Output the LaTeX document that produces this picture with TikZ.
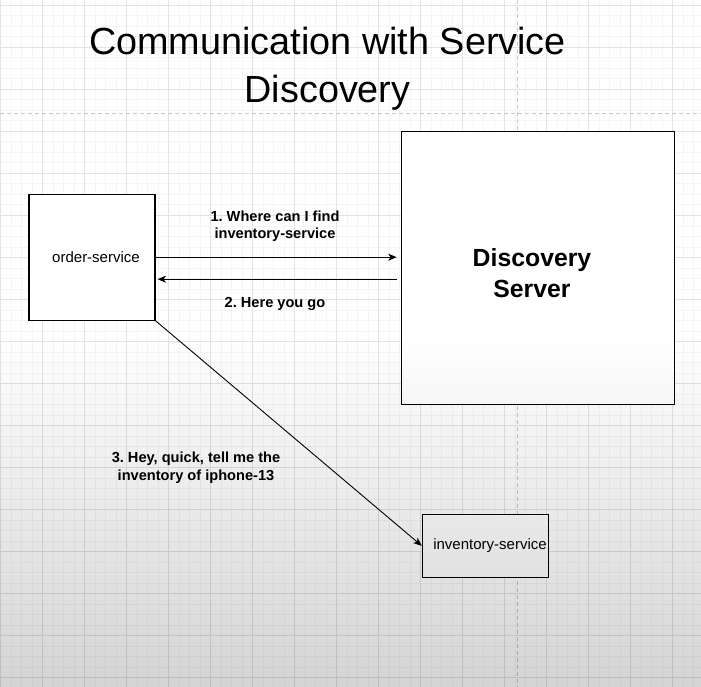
\documentclass[tikz,border=0pt]{standalone}
\usepackage{fontspec}
\setmainfont{Liberation Sans}
\usetikzlibrary{arrows.meta,fadings}
\tikzfading[name=fadedown, top color=transparent!100, bottom color=transparent!83]
\begin{document}
\frenchspacing
\begin{tikzpicture}[x=1pt,y=-1pt,
  gridminor/.style={draw=black!4,line width=0.6pt},
  gridmajor/.style={draw=black!11,line width=0.8pt},
  guide/.style={draw=black!22,line width=0.9pt,dash pattern=on 4pt off 3pt},
  box/.style={draw=black,fill=white,line width=1.1pt,inner sep=0pt},
  arr/.style={-{Stealth[length=8.5pt,width=7pt,inset=2.5pt]},line width=0.9pt},
  plain/.style={font=\fontsize{15}{17}\selectfont},
  msg/.style={font=\bfseries\fontsize{14.6}{17.5}\selectfont,align=center}]
  \useasboundingbox (0,0) rectangle (701,687);
  \fill[white] (0,0) rectangle (701,687);

  %%%%%%%%%%%%%the grid%%%%%%%%%%%%%%%%%%%%%%
  \foreach \i in {0,...,66} \draw[gridminor] ({0.7+10.5*\i},0) -- ({0.7+10.5*\i},687);
  \foreach \i in {0,...,64} \draw[gridminor] (0,{5.3+10.5*\i}) -- (701,{5.3+10.5*\i});
  \foreach \i in {0,...,16} \draw[gridmajor] ({0.7+42*\i},0) -- ({0.7+42*\i},687);
  \foreach \i in {0,...,16} \draw[gridmajor] (0,{5.3+42*\i}) -- (701,{5.3+42*\i});
  \draw[guide] (517,0) -- (517,687);
  \draw[guide] (0,113) -- (701,113);

  %%%%%%%%%%%%%title%%%%%%%%%%%%%%%%%%%%%%
  \node[font=\fontsize{37.8}{47.7}\selectfont,anchor=base] (title) at (327.5,55) {Communication with Service};
  \node[font=\fontsize{37.8}{47.7}\selectfont,anchor=base] (titleb) at (327.5,102.7) {Discovery};

  %%%%%%%%%%%%%the services%%%%%%%%%%%%%%%%%%%%%%
  \node[box,plain,minimum width=126pt,minimum height=126pt] (order) at (92,257.2) {\hspace{8pt}order-service};
  \node[box,minimum width=272.6pt,minimum height=272.3pt] (disc) at (538,267.9) {};
  \node[font=\bfseries\fontsize{24.8}{31}\selectfont,align=center] (disctext) at (532,273.5) {Discovery\\Server};
  \node[box,plain,minimum width=126.4pt,minimum height=63pt] (inv) at (485.5,545.8) {\hspace{9pt}inventory-service};

  %%%%%%%%%%%%%the calls%%%%%%%%%%%%%%%%%%%%%%
  \coordinate (back) at ([yshift=-22pt]order.east);
  \draw[arr,shorten >=4.5pt] (order.east) -- (order.east -| disc.west);
  \draw[arr,shorten <=4.5pt,shorten >=2pt] (back -| disc.west) -- (back);
  \draw[arr] (order.south east) -- (inv.west);

  \node[msg] (ask) at (275,226) {1. Where can I find\\inventory-service};
  \node[msg] (reply) at (275,304) {2. Here you go};
  \node[msg] (query) at (196,467.5) {3. Hey, quick, tell me the\\inventory of iphone-13};

  %%%%%%%%%%%%%shadow at the bottom%%%%%%%%%%%%%%%%%%%%%%
  \fill[black,path fading=fadedown] (0,335) rectangle (701,687);
\end{tikzpicture}
\end{document}
